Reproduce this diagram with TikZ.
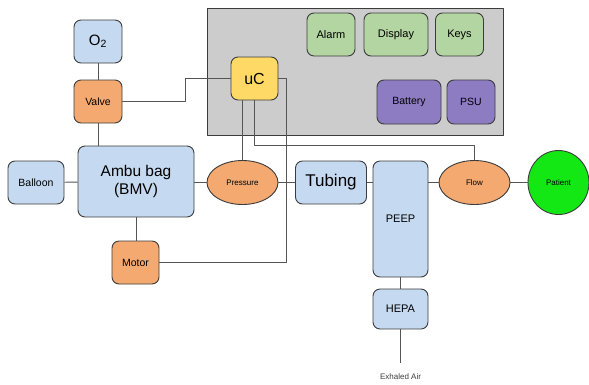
\documentclass[tikz,border=0pt]{standalone}
\usepackage{fontspec}
\setmainfont{Liberation Sans}
\usetikzlibrary{shapes.geometric}
\definecolor{bagblue}{RGB}{197,218,240}
\definecolor{partorange}{RGB}{244,169,113}
\definecolor{ucyellow}{RGB}{255,217,102}
\definecolor{uigreen}{RGB}{178,213,162}
\definecolor{powerpurple}{RGB}{142,124,195}
\definecolor{panelgray}{RGB}{204,204,204}
\definecolor{patientgreen}{RGB}{20,232,20}
\definecolor{edgegray}{RGB}{60,60,60}
\definecolor{wiregray}{RGB}{85,85,85}
\begin{document}
\begin{tikzpicture}[x=1pt, y=-1pt, line join=round, font=\fontsize{10.5}{12}\selectfont]
	\tikzset{box/.style={draw=edgegray, line width=0.9pt, rounded corners=7pt, minimum width=48pt, minimum height=43pt, inner sep=1pt, align=center},
		oval/.style={ellipse, draw=edgegray, line width=0.9pt, fill=partorange, minimum width=71pt, minimum height=44pt, inner sep=0pt, font=\fontsize{8}{9}\selectfont},
		wire/.style={draw=wiregray, line width=0.9pt}}
	\useasboundingbox (0,0) rectangle (589,384);
	% control panel
	\draw[draw=edgegray, line width=0.9pt, fill=panelgray] (207,8) rectangle (503,135);
	\node[box, fill=uigreen, font=\fontsize{11}{12}\selectfont] (alarm) at (331,34.5) {Alarm};
	\node[box, fill=uigreen, minimum width=64pt, font=\fontsize{11}{12}\selectfont] (display) at (396,34.5) {Display};
	\node[box, fill=uigreen, font=\fontsize{11}{12}\selectfont] (keys) at (459.5,34.5) {Keys};
	\node[box, fill=powerpurple, minimum width=64pt, minimum height=44pt] (battery) at (409,102) {Battery};
	\node[box, fill=powerpurple, minimum height=44pt] (psu) at (471,102) {PSU};
	\node[box, fill=ucyellow, minimum width=47pt, font=\fontsize{16}{18}\selectfont] (uc) at (254.5,78.5) {uC};
	% air path
	\node[box, fill=bagblue, font=\fontsize{15}{17}\selectfont] (o2) at (98,41.5) {O\textsubscript{2}};
	\node[box, fill=partorange] (valve) at (98,101.5) {Valve};
	\node[box, fill=bagblue, minimum width=116pt, minimum height=71pt, font=\fontsize{15.5}{18}\selectfont] (ambu) at (136,181.5) {Ambu bag\\(BMV)};
	\node[box, fill=bagblue, minimum width=56pt] (balloon) at (36,182.5) {Balloon};
	\node[box, fill=partorange, minimum width=47pt] (motor) at (135.5,262.5) {Motor};
	\node[oval] (press) at (242.5,182.5) {Pressure};
	\node[box, fill=bagblue, minimum width=71pt, font=\fontsize{17}{19}\selectfont] (tubing) at (331,182.5) {Tubing};
	\node[box, fill=bagblue, minimum width=55pt, minimum height=116pt, font=\fontsize{11}{12}\selectfont] (peep) at (400.5,219) {PEEP};
	\node[box, fill=bagblue, minimum width=55pt, minimum height=40pt, font=\fontsize{11}{12}\selectfont] (hepa) at (400.5,309) {HEPA};
	\node[oval] (flow) at (474.5,182.5) {Flow};
	\node[ellipse, draw=edgegray, line width=0.9pt, fill=patientgreen, minimum width=61pt, minimum height=64pt, font=\fontsize{8}{9}\selectfont] (patient) at (558.5,182.5) {Patient};
	\node[text=edgegray, font=\fontsize{8}{9}\selectfont] (exhaled) at (400.5,377) {Exhaled Air};
	\coordinate (out) at (400.5,363);
	% connectors
	\draw[wire] (o2) -- (valve);
	\draw[wire] (valve.south) -- (valve.south |- ambu.north);
	\draw[wire] (balloon) -- (ambu);
	\draw[wire] (ambu.east |- press) -- (press);
	\draw[wire] (press) -- (tubing);
	\draw[wire] (tubing.east) -- (tubing.east -| peep.west);
	\draw[wire] (peep.east |- flow) -- (flow);
	\draw[wire] (flow) -- (patient);
	\draw[wire] (motor.north -| ambu.south) -- (ambu.south);
	\draw[wire] (peep) -- (hepa);
	\draw[wire] (hepa) -- (out);
	\draw[wire] (valve.east) -- ++(63,0) |- (uc.west);
	\draw[wire] (uc.east) -- ++(8,0) |- (motor.east);
	\draw[wire] (uc.south -| press.north) -- (press.north);
	\draw[wire] (uc.south) |- ([yshift=15pt]flow.north) -- (flow.north);
\end{tikzpicture}
\end{document}
